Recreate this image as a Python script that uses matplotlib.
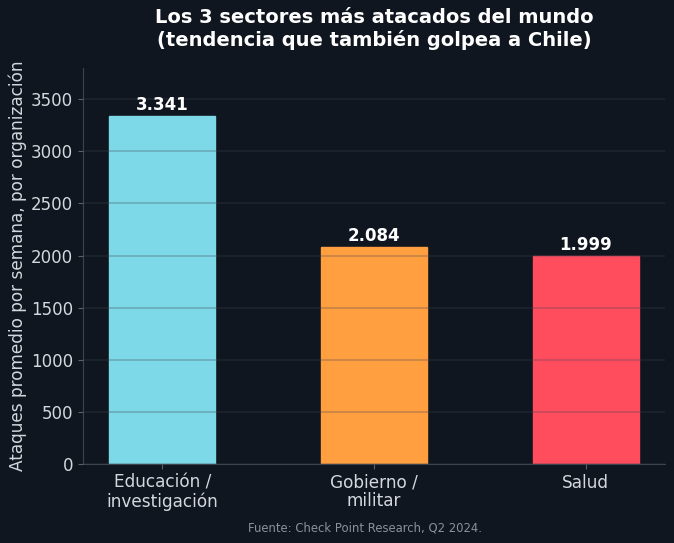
import matplotlib
matplotlib.use("Agg")
import matplotlib.pyplot as plt

categories = ["Educación /\ninvestigación", "Gobierno /\nmilitar", "Salud"]
values = [3341, 2084, 1999]
value_labels = ["3.341", "2.084", "1.999"]
colors = ["#7dd8e8", "#ff9f40", "#ff4d5e"]

BG = "#10161f"
TXT = "#d4d8de"

fig = plt.figure(figsize=(6.74, 5.43), dpi=100, facecolor=BG)
ax = fig.add_axes([83/674, 1-464/543, 582/674, 396/543], facecolor=BG)

x = range(len(categories))
bars = ax.bar(x, values, width=0.5, color=colors, edgecolor=colors, linewidth=1, zorder=1)
ax.set_axisbelow(False)
ax.grid(axis="y", color="#3c4350", alpha=0.3, linewidth=1.2, zorder=3)
ax.set_ylim(0, 3800)
ax.set_yticks(range(0, 3501, 500))
ax.set_xticks(list(x))
ax.set_xticklabels(categories, fontsize=12.2, color=TXT, linespacing=1.05)
ax.tick_params(axis="y", labelsize=12, colors=TXT)
ax.tick_params(axis="x", colors=TXT)
ax.tick_params(axis="both", color="#59606b")
for s in ["top", "right"]:
    ax.spines[s].set_visible(False)
for s in ["left", "bottom"]:
    ax.spines[s].set_color("#3c4450")

for b, lab in zip(bars, value_labels):
    ax.annotate(lab, (b.get_x() + b.get_width()/2, b.get_height()),
                xytext=(0, 1.5), textcoords="offset points", ha="center", va="bottom",
                fontsize=12, fontweight="bold", color="white")

ax.set_ylabel("Ataques promedio por semana, por organización", fontsize=12.2, color=TXT, labelpad=3)
fig.suptitle("Los 3 sectores más atacados del mundo\n(tendencia que también golpea a Chile)",
             fontsize=14, fontweight="bold", color="white", y=0.985, x=0.555)
fig.text(0.541, 0.022, "Fuente: Check Point Research, Q2 2024.", ha="center", fontsize=8.4, color="#8a919b")

fig.savefig("out.png", dpi=100, facecolor=BG)
